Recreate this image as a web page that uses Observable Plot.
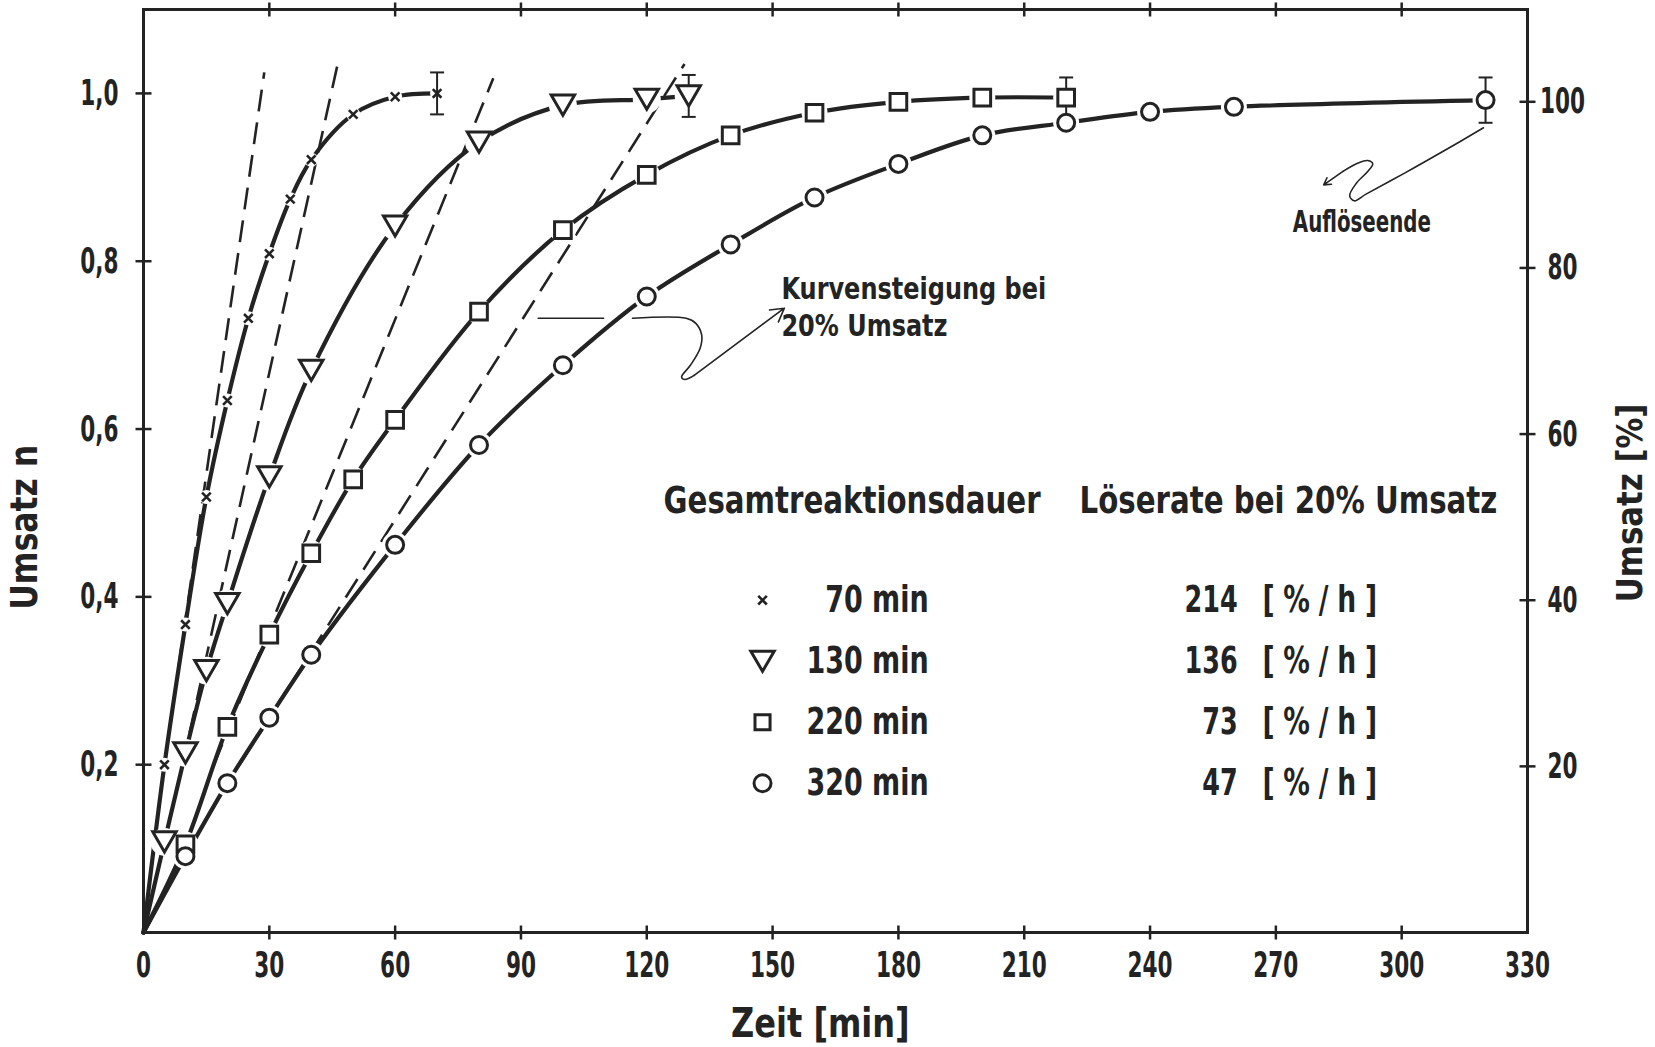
<!DOCTYPE html>
<html>
<head>
<meta charset="utf-8">
<script src="https://cdn.jsdelivr.net/npm/d3@7"></script>
<script src="https://cdn.jsdelivr.net/npm/@observablehq/plot@0.6"></script>
<style>
  html, body { margin: 0; padding: 0; background: #fff; }
  #chart svg { display: block; }
</style>
</head>
<body>
<div id="chart"></div>
<script>
// ---------- data ----------
// 70 min series (x markers)
const t70 = [0, 5, 10, 15, 20, 25, 30, 35, 40, 50, 60, 70];
const n70 = [0, 0.200, 0.367, 0.519, 0.634, 0.732, 0.809, 0.874, 0.921, 0.975, 0.996, 1.000];
// 130 min series (triangles)
const t130 = [0, 5, 10, 15, 20, 30, 40, 60, 80, 100, 120, 130];
const n130 = [0, 0.108, 0.214, 0.312, 0.392, 0.543, 0.670, 0.842, 0.942, 0.986, 0.993, 0.997];
// 220 min series (squares)
const t220 = [0, 10, 20, 30, 40, 50, 60, 80, 100, 120, 140, 160, 180, 200, 220];
const n220 = [0, 0.105, 0.245, 0.355, 0.452, 0.540, 0.611, 0.740, 0.837, 0.903, 0.950, 0.977, 0.990, 0.995, 0.995];
// 320 min series (circles)
const t320 = [0, 10, 20, 30, 40, 60, 80, 100, 120, 140, 160, 180, 200, 220, 240, 260, 320];
const n320 = [0, 0.091, 0.178, 0.256, 0.331, 0.462, 0.581, 0.676, 0.758, 0.820, 0.876, 0.916, 0.950, 0.965, 0.978, 0.984, 0.992];

// error bars at the end of each run
const errT = [70, 130, 220, 320];
const errN = [1.000, 0.997, 0.995, 0.992];
const errE = [0.025, 0.025, 0.024, 0.027];

// dashed tangent lines (slope at 20 % conversion): start and end
const tanT1 = [5.0, 9.3, 16.8, 22.9];
const tanN1 = [0.200, 0.200, 0.200, 0.200];
const tanT2 = [28.8, 46.3, 83.4, 129.0];
const tanN2 = [1.025, 1.035, 1.018, 1.035];

// annotation paths
const ptrAT = [94.1, 109.7];
const ptrAN = [0.732, 0.732];
const ptrBT = [116.6, 129.4, 131.7, 133.1, 132.7, 130.4, 128.3, 129.0, 131.3];
const ptrBN = [0.732, 0.732, 0.726, 0.712, 0.696, 0.676, 0.662, 0.659, 0.664];
const ptrArrowT = [131.3, 152.8];
const ptrArrowN = [0.664, 0.744];
const endT = [319.5, 309.9, 300.7, 291.5, 288.7, 287.6, 289.2, 291.9, 293.1, 291.9, 289.6, 286.0];
const endN = [0.959, 0.931, 0.905, 0.880, 0.872, 0.878, 0.893, 0.907, 0.916, 0.920, 0.917, 0.907];
const endArrowT = [286.0, 281.4];
const endArrowN = [0.907, 0.891];

// legend table
const durations = ["70 min", "130 min", "220 min", "320 min"];
const rates = [214, 136, 73, 47];
const rateUnit = "[%/h]";
const headDuration = "Gesamtreaktionsdauer";
const headRate = "Löserate bei 20% Umsatz";

// axes
const xTicks = [0, 30, 60, 90, 120, 150, 180, 210, 240, 270, 300, 330];
const yTicks = [0.2, 0.4, 0.6, 0.8, 1.0];
const yTickLabels = ["0,2", "0,4", "0,6", "0,8", "1,0"];
const pctTicks = [20, 40, 60, 80, 100];
const pctLabels = ["20", "40", "60", "80", "100"];
const pctToN = 0.99 / 100; // right axis as drawn: 100 % sits at n = 0.99

// ---------- build ----------
const rows = (T, N) => T.map((t, i) => ({t, n: N[i]}));
const s70 = rows(t70, n70), s130 = rows(t130, n130), s220 = rows(t220, n220), s320 = rows(t320, n320);
const errRows = errT.map((t, i) => ({t, n: errN[i], e: errE[i]}));
const tangents = tanT1.map((t, i) => ({t1: t, n1: tanN1[i], t2: tanT2[i], n2: tanN2[i]}));
const legendRows = durations.map((d, i) => ({d, r: String(rates[i]), i}));
const legendY = i => 0.396 - i * 0.0727;

const INK = "#232323";
const symR = (size) => Math.sqrt(size / Math.PI);
const triDown = {draw(ctx, size) { const r = symR(size); const w = r * 1.3, h = r * 1.12;
  ctx.moveTo(-w, -h); ctx.lineTo(w, -h); ctx.lineTo(0, h); ctx.closePath(); }};
const vBar = {draw(ctx, size) { const r = symR(size); ctx.moveTo(0, -r); ctx.lineTo(0, r); }};
const hBar = {draw(ctx, size) { const r = symR(size); ctx.moveTo(-r, 0); ctx.lineTo(r, 0); }};

const curve = (data) => Plot.line(data, {x: "t", y: "n", curve: "catmull-rom", stroke: INK, strokeWidth: 4.2, strokeLinecap: "round"});
const halo = (data, r) => Plot.dot(data.slice(1), {x: "t", y: "n", r, fill: "white", stroke: "none"});
const F = "DejaVu Sans";

const svg = Plot.plot({
  width: 1655,
  height: 1047,
  marginLeft: 143,
  marginRight: 128,
  marginTop: 9,
  marginBottom: 115,
  x: {domain: [0, 330], axis: null},
  y: {domain: [0, 1.1], axis: null},
  style: {background: "white", fontFamily: F, color: INK},
  marks: [
    // tangents
    Plot.link(tangents, {x1: "t1", y1: "n1", x2: "t2", y2: "n2", stroke: INK, strokeWidth: 2.6, strokeDasharray: "22,11"}),
    // curves
    curve(s70), curve(s130), curve(s220), curve(s320),
    // gaps around markers
    halo(s70, 7), halo(s130, 14), halo(s220, 13), halo(s320, 13),
    // annotation: Kurvensteigung
    Plot.line(rows(ptrAT, ptrAN), {x: "t", y: "n", stroke: INK, strokeWidth: 1.6}),
    Plot.line(rows(ptrBT, ptrBN), {x: "t", y: "n", curve: "catmull-rom", stroke: INK, strokeWidth: 1.6}),
    Plot.arrow([0], {x1: () => ptrArrowT[0], y1: () => ptrArrowN[0], x2: () => ptrArrowT[1], y2: () => ptrArrowN[1], stroke: INK, strokeWidth: 1.6, headLength: 14}),
    // annotation: Auflöseende
    Plot.line(rows(endT, endN), {x: "t", y: "n", curve: "catmull-rom", stroke: INK, strokeWidth: 1.6}),
    Plot.arrow([0], {x1: () => endArrowT[0], y1: () => endArrowN[0], x2: () => endArrowT[1], y2: () => endArrowN[1], stroke: INK, strokeWidth: 1.6, headLength: 14}),
    // error bars
    Plot.ruleX(errRows, {x: "t", y1: d => d.n - d.e, y2: d => d.n + d.e, stroke: INK, strokeWidth: 2}),
    Plot.dot(errRows, {x: "t", y: d => d.n + d.e, symbol: hBar, r: 7, stroke: INK, strokeWidth: 2, fill: "none"}),
    Plot.dot(errRows, {x: "t", y: d => d.n - d.e, symbol: hBar, r: 7, stroke: INK, strokeWidth: 2, fill: "none"}),
    // markers
    Plot.dot(s70.slice(1), {x: "t", y: "n", symbol: "times", r: 4, stroke: INK, strokeWidth: 2.6, fill: "none"}),
    Plot.dot(s130.slice(1), {x: "t", y: "n", symbol: triDown, r: 9, stroke: INK, strokeWidth: 3, fill: "white"}),
    Plot.dot(s220.slice(1), {x: "t", y: "n", symbol: "square", r: 9.4, stroke: INK, strokeWidth: 3, fill: "white"}),
    Plot.dot(s320.slice(1), {x: "t", y: "n", symbol: "circle", r: 8.5, stroke: INK, strokeWidth: 3, fill: "white"}),
    // frame and ticks
    Plot.frame({stroke: INK, strokeWidth: 3}),
    Plot.dot(xTicks.slice(1, -1), {x: d => d, y: 0, symbol: vBar, r: 7, stroke: INK, strokeWidth: 2.5}),
    Plot.dot(xTicks.slice(1, -1), {x: d => d, y: 1.1, symbol: vBar, r: 7, stroke: INK, strokeWidth: 2.5}),
    Plot.dot(yTicks, {x: 0, y: d => d, symbol: hBar, r: 8, stroke: INK, strokeWidth: 2.5}),
    Plot.dot(pctTicks, {x: 330, y: d => d * pctToN, symbol: hBar, r: 8, stroke: INK, strokeWidth: 2.5}),
    // tick labels
    Plot.text(xTicks, {x: d => d, y: 0, text: d => String(d), dy: 33, fontSize: 36, fontWeight: "bold", fill: INK}),
    Plot.text(yTicks, {x: 0, y: d => d, text: (d, i) => yTickLabels[i], dx: -25, textAnchor: "end", fontSize: 36, fontWeight: "bold", fill: INK}),
    Plot.text(pctTicks, {x: 330, y: d => d * pctToN, text: (d, i) => pctLabels[i], dx: 35, fontSize: 36, fontWeight: "bold", fill: INK}),
    // axis titles
    Plot.text(["Zeit [min]"], {x: 161.4, y: -0.109, text: d => d, fontSize: 40, fontWeight: "bold", fill: INK}),
    Plot.text(["Umsatz n"], {x: -28.3, y: 0.483, text: d => d, rotate: -90, fontSize: 37, fontWeight: "bold", fill: INK}),
    Plot.text(["Umsatz [%]"], {x: 354.6, y: 0.512, text: d => d, rotate: -90, fontSize: 35, fontWeight: "bold", fill: INK}),
    // legend table
    Plot.text([headDuration], {x: 124.0, y: 0.514, text: d => d, textAnchor: "start", fontSize: 38, fontWeight: "bold", fill: INK}),
    Plot.text([headRate], {x: 223.2, y: 0.514, text: d => d, textAnchor: "start", fontSize: 38, fontWeight: "bold", fill: INK}),
    Plot.text(legendRows, {x: 187.2, y: d => legendY(d.i), text: "d", textAnchor: "end", fontSize: 38, fontWeight: "bold", fill: INK}),
    Plot.text(legendRows, {x: 260.9, y: d => legendY(d.i), text: "r", textAnchor: "end", fontSize: 38, fontWeight: "bold", fill: INK}),
    Plot.text(legendRows, {x: 266.8, y: d => legendY(d.i), text: () => rateUnit, textAnchor: "start", fontSize: 38, fontWeight: "bold", fill: INK}),
    Plot.dot([0], {x: 147.6, y: legendY(0), symbol: "times", r: 4, stroke: INK, strokeWidth: 2.6, fill: "none"}),
    Plot.dot([0], {x: 147.6, y: legendY(1), symbol: triDown, r: 9, stroke: INK, strokeWidth: 3, fill: "white"}),
    Plot.dot([0], {x: 147.6, y: legendY(2), symbol: "square", r: 8.5, stroke: INK, strokeWidth: 3, fill: "white"}),
    Plot.dot([0], {x: 147.6, y: legendY(3), symbol: "circle", r: 8.5, stroke: INK, strokeWidth: 3, fill: "white"}),
    // annotation texts
    Plot.text(["Kurvensteigung bei"], {x: 152.1, y: 0.767, text: d => d, textAnchor: "start", fontSize: 30, fontWeight: "bold", fill: INK}),
    Plot.text(["20% Umsatz"], {x: 152.1, y: 0.722, text: d => d, textAnchor: "start", fontSize: 30, fontWeight: "bold", fill: INK}),
    Plot.text(["Auflöseende"], {x: 290.5, y: 0.846, text: d => d, fontSize: 30, fontWeight: "bold", fill: INK})
  ]
});

// narrow, DIN-like lettering: compress each label horizontally about its anchor
const textStyle = new Map([
  [headDuration, {k: 0.77}], [headRate, {k: 0.77}],
  ...durations.map(d => [d, {k: 0.71}]),
  ...rates.map(r => [String(r), {k: 0.67}]),
  [rateUnit, {k: 0.7, ls: "0.33em"}],
  ["Kurvensteigung bei", {k: 0.8}], ["20% Umsatz", {k: 0.8}],
  ["Auflöseende", {k: 0.66}],
  ["Zeit [min]", {k: 0.8}], ["Umsatz n", {k: 0.85}], ["Umsatz [%]", {k: 0.88}]
]);
svg.querySelectorAll("text").forEach(t => {
  const s = t.textContent;
  const st = textStyle.get(s) || {k: 0.6};
  const tr = t.getAttribute("transform");
  if (tr) t.setAttribute("transform", tr + ` scale(${st.k},1)`);
  else {
    const x = +t.getAttribute("x") || 0, y = +t.getAttribute("y") || 0;
    t.removeAttribute("x"); t.removeAttribute("y");
    t.setAttribute("transform", `translate(${x},${y}) scale(${st.k},1)`);
  }
  if (st.ls) t.setAttribute("letter-spacing", st.ls);
});

document.getElementById("chart").appendChild(svg);
</script>
</body>
</html>
